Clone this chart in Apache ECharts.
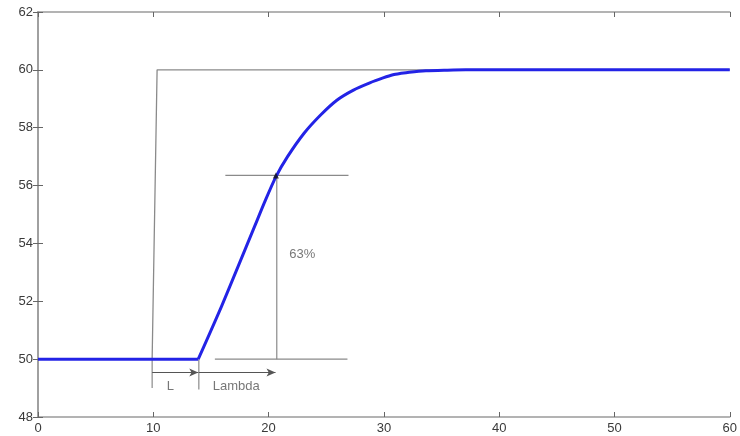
<!DOCTYPE html>
<html><head><meta charset="utf-8">
<script src="https://cdn.jsdelivr.net/npm/echarts@6/dist/echarts.min.js"></script>
<style>html,body{margin:0;padding:0;background:#fff}#c{width:740px;height:436px}</style>
</head><body><div id="c"></div>
<script>
// x ticks / y ticks
const xTicks = [0, 10, 20, 30, 40, 50, 60];
const yTicks = [48, 50, 52, 54, 56, 58, 60, 62];
// setpoint step (gray)
const setpointT = [0, 9.9, 10.33, 60];
const setpointY = [50, 50, 60, 60];
// process response (blue): dead-time part, then rise
const deadT = [0, 13.9];
const deadY = [50, 50];
const riseT = [13.9, 14.76, 15.9, 17.34, 18.77, 19.7, 20.63, 21.63, 23.06, 24.49, 25.92, 27.36, 28.78, 29.93, 30.79, 31.5, 32.2, 33.65, 35.5, 37.1, 40, 60];
const riseY = [50, 50.77, 51.81, 53.19, 54.57, 55.47, 56.3, 56.99, 57.8, 58.43, 58.95, 59.3, 59.55, 59.72, 59.83, 59.88, 59.92, 59.97, 59.99, 60, 60, 60];
// annotation segments [x1,y1,x2,y2]
const guideSegs = [
  [9.9, 50, 9.9, 49.0],
  [13.95, 50, 13.95, 48.95],
  [16.25, 56.35, 26.93, 56.35],
  [20.71, 56.35, 20.71, 50],
  [15.34, 50, 26.84, 50]
];
const arrowSegs = [
  [9.9, 49.54, 13.9, 49.54],
  [13.95, 49.54, 20.6, 49.54]
];
const marker63 = [20.63, 56.35];
const labelsText = ['L', 'Lambda', '63%'];
const labelsPos = [[11.47, 49.04], [17.2, 49.04], [22.92, 53.63]];

const axisCol = '#9a9a9a';
const txtCol = '#3a3a3a';
const fontFam = 'Liberation Sans, Arial, sans-serif';
const blue = '#2323e6';
const series = [];
series.push({type:'line', data: setpointT.map((t,i)=>[t,setpointY[i]]), showSymbol:false,
  lineStyle:{color:'#8a8a8a', width:1.3}, z:2, silent:true});
guideSegs.forEach(s=>series.push({type:'line', data:[[s[0],s[1]],[s[2],s[3]]], showSymbol:false,
  lineStyle:{color:'#8a8a8a', width:1.2}, z:2, silent:true}));
series.push({type:'line', data:[], markLine:{silent:true, symbol:['none','arrow'], symbolSize:[6,9],
  label:{show:false}, lineStyle:{color:'#555', width:1.2, type:'solid'},
  data: arrowSegs.map(s=>[{coord:[s[0],s[1]]},{coord:[s[2],s[3]]}])}});
series.push({type:'line', data: deadT.map((t,i)=>[t,deadY[i]]), showSymbol:false,
  lineStyle:{color:blue, width:3}, z:5, silent:true});
series.push({type:'line', data: riseT.map((t,i)=>[t,riseY[i]]), showSymbol:false, smooth:0.25,
  lineStyle:{color:blue, width:3, join:'round'}, z:5, silent:true});
series.push({type:'scatter', data:[marker63], symbol:'triangle', symbolSize:6, itemStyle:{color:'#111'}, z:6, silent:true});
series.push({type:'scatter', data: labelsPos.map((p,i)=>({value:p, name:labelsText[i]})), symbolSize:0, z:7, silent:true,
  label:{show:true, position:'inside', formatter:p=>p.name, color:'#555', fontFamily:fontFam, fontSize:13}});

const chart = echarts.init(document.getElementById('c'));
chart.setOption({
  animation:false,
  grid:{left:38, right:3, top:12, bottom:19, containLabel:false},
  xAxis:[{type:'value', min:xTicks[0], max:xTicks[xTicks.length-1], interval:10, position:'bottom',
    axisLine:{show:true, lineStyle:{color:axisCol, width:1.5}},
    axisTick:{show:true, inside:true, length:5, lineStyle:{color:'#666'}},
    axisLabel:{color:txtCol, fontFamily:fontFam, fontSize:13, margin:5},
    splitLine:{show:false}},
    {type:'value', min:xTicks[0], max:xTicks[xTicks.length-1], interval:10, position:'top',
    axisLine:{show:true, lineStyle:{color:axisCol, width:1.5}},
    axisTick:{show:true, inside:true, length:5, lineStyle:{color:'#666'}},
    axisLabel:{show:false}, splitLine:{show:false}}],
  yAxis:[{type:'value', min:yTicks[0], max:yTicks[yTicks.length-1], interval:2, position:'left',
    axisLine:{show:true, lineStyle:{color:axisCol, width:1.5}},
    axisTick:{show:true, inside:true, length:5, lineStyle:{color:'#666'}},
    axisLabel:{color:txtCol, fontFamily:fontFam, fontSize:13, margin:5},
    splitLine:{show:false}},
    {type:'value', min:yTicks[0], max:yTicks[yTicks.length-1], interval:2, position:'right',
    axisLine:{show:true, lineStyle:{color:axisCol, width:1.5}},
    axisTick:{show:true, inside:true, length:5, lineStyle:{color:'#666'}},
    axisLabel:{show:false}, splitLine:{show:false}}],
  series: series
});
</script></body></html>
